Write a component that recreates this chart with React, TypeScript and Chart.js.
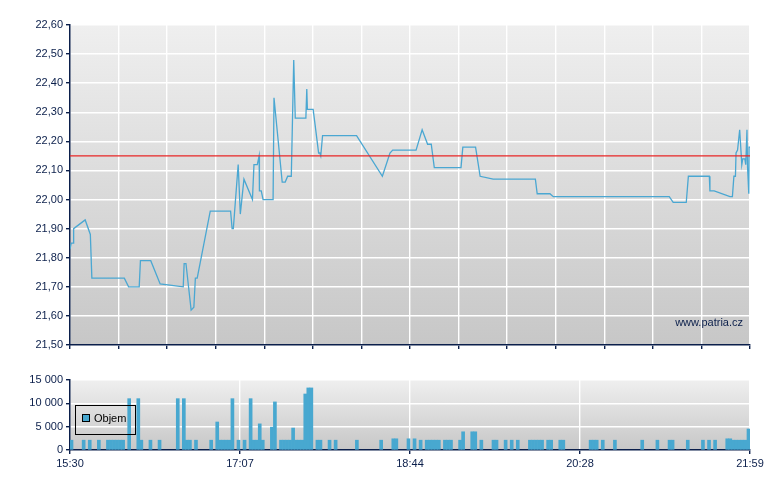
import React, { useEffect, useRef } from "react";
import { Chart, registerables } from "chart.js";

Chart.register(...registerables);

// session slots 0..224 along the time axis
const slotCount = 224;
const timeLabels = ["15:30", "17:07", "18:44", "20:28", "21:59"];
const referencePrice = 22.15;

const priceSlots = [
  0, 0.4, 1.0, 1.2, 5.0, 6.7, 7.2, 17.9, 19.3, 22.8, 23.2, 26.6, 29.7, 37.3, 37.6, 38.2, 39.9,
  40.8, 41.3, 41.9, 46.2, 52.9, 53.4, 53.8, 55.4, 56.1, 57.3, 60.1, 60.6, 61.7, 62.3, 62.4, 63.0,
  63.6, 66.9, 67.2, 69.9, 70.9, 71.7, 72.9, 73.7, 74.2, 77.7, 78.0, 78.2, 80.1, 81.9, 82.3, 82.6,
  83.2, 94.4, 102.9, 105.4, 106.3, 114.0, 116.0, 117.8, 119.0, 120.0, 128.8, 129.4, 133.6, 135.1,
  139.4, 153.3, 153.9, 158.1, 159.2, 197.4, 198.7, 203.0, 203.7, 210.6, 210.8, 212.2, 217.4,
  218.2, 218.7, 219.2, 219.4, 219.9, 220.6, 221.3, 221.6, 222.3, 222.6, 223.0, 223.2, 223.6,
  223.7, 224,
];
const priceValues = [
  21.83, 21.85, 21.85, 21.9, 21.93, 21.88, 21.73, 21.73, 21.7, 21.7, 21.79, 21.79, 21.71, 21.7,
  21.78, 21.78, 21.62, 21.63, 21.73, 21.73, 21.96, 21.96, 21.9, 21.9, 22.12, 21.95, 22.07, 22.0,
  22.12, 22.12, 22.15, 22.03, 22.03, 22.0, 22.0, 22.35, 22.06, 22.06, 22.08, 22.08, 22.48, 22.28,
  22.28, 22.38, 22.31, 22.31, 22.16, 22.16, 22.15, 22.22, 22.22, 22.08, 22.16, 22.17, 22.17,
  22.24, 22.19, 22.19, 22.11, 22.11, 22.18, 22.18, 22.08, 22.07, 22.07, 22.02, 22.02, 22.01,
  22.01, 21.99, 21.99, 22.08, 22.08, 22.03, 22.03, 22.01, 22.01, 22.08, 22.08, 22.16, 22.17,
  22.24, 22.12, 22.14, 22.14, 22.12, 22.24, 22.11, 22.02, 22.18, 22.18,
];

const volumeSlots = [
  0, 4, 6, 9, 12, 13, 14, 15, 16, 17, 19, 22, 23, 26, 29, 35, 37, 38, 39, 41, 46, 48, 49, 50, 51,
  52, 53, 55, 57, 59, 60, 61, 62, 63, 66, 67, 69, 70, 71, 72, 73, 74, 75, 76, 77, 78, 79, 81, 82,
  85, 87, 94, 102, 106, 107, 111, 113, 115, 117, 118, 119, 120, 121, 123, 124, 125, 128, 129, 132,
  133, 135, 139, 140, 143, 145, 147, 151, 152, 153, 154, 155, 157, 158, 161, 162, 171, 172, 173,
  175, 179, 188, 193, 197, 198, 203, 208, 210, 212, 216, 217, 218, 219, 220, 221, 222, 223,
];
const volumeValues = [
  2100, 2100, 2100, 2100, 2100, 2100, 2100, 2100, 2100, 2100, 11000, 11000, 2100, 2100, 2100,
  11000, 11000, 2100, 2100, 2100, 2100, 6000, 2100, 2100, 2100, 2100, 11000, 2100, 2100, 11000,
  2100, 2100, 5600, 2100, 4900, 10300, 2100, 2100, 2100, 2100, 4700, 2100, 2100, 2100, 12000,
  13300, 13300, 2100, 2100, 2100, 2100, 2100, 2100, 2400, 2400, 2400, 2400, 2100, 2100, 2100,
  2100, 2100, 2100, 2100, 2100, 2100, 2100, 3900, 3900, 3900, 2100, 2100, 2100, 2100, 2100, 2100,
  2100, 2100, 2100, 2100, 2100, 2100, 2100, 2100, 2100, 2100, 2100, 2100, 2100, 2100, 2100, 2100,
  2100, 2100, 2100, 2100, 2100, 2100, 2400, 2400, 2100, 2100, 2100, 2100, 2100, 4500,
];

const navy = "#0b1f4b";
const lineBlue = "#4aa7d2";
const barBlue = "#48a8d0";
const fontFamily = "'Liberation Sans', Arial, sans-serif";

const plotBackground = {
  id: "plotBackground",
  beforeDraw(chart: any) {
    const { ctx, chartArea } = chart;
    if (!chartArea) return;
    const g = ctx.createLinearGradient(0, chartArea.top, 0, chartArea.bottom);
    g.addColorStop(0, "#efefef");
    g.addColorStop(1, "#c7c7c7");
    ctx.save();
    ctx.fillStyle = g;
    ctx.fillRect(chartArea.left, chartArea.top, chartArea.right - chartArea.left, chartArea.bottom - chartArea.top);
    ctx.restore();
  },
};

const watermark = {
  id: "watermark",
  afterDraw(chart: any) {
    const { ctx, chartArea } = chart;
    ctx.save();
    ctx.font = "11px " + fontFamily;
    ctx.fillStyle = navy;
    ctx.textAlign = "right";
    ctx.textBaseline = "middle";
    ctx.fillText("www.patria.cz", chartArea.right - 7, chartArea.bottom - 22);
    ctx.restore();
  },
};

const volumeLegend = {
  id: "volumeLegend",
  afterDraw(chart: any) {
    const { ctx, chartArea } = chart;
    const x = chartArea.left + 5;
    const y = chartArea.top + 25;
    ctx.save();
    ctx.strokeStyle = "#000";
    ctx.lineWidth = 1;
    ctx.strokeRect(x + 0.5, y + 0.5, 60, 29);
    ctx.fillStyle = barBlue;
    ctx.fillRect(x + 8, y + 10, 7, 7);
    ctx.strokeRect(x + 7.5, y + 9.5, 7, 7);
    ctx.font = "11px " + fontFamily;
    ctx.fillStyle = "#000";
    ctx.textBaseline = "middle";
    ctx.fillText("Objem", x + 19, y + 14);
    ctx.restore();
  },
};

const fmtPrice = (v: number) => v.toFixed(2).replace(".", ",");
const fmtVolume = (v: number) => String(Math.round(v)).replace(/\B(?=(\d{3})+(?!\d))/g, " ");

export default function App() {
  const priceRef = useRef<HTMLCanvasElement>(null);
  const volumeRef = useRef<HTMLCanvasElement>(null);

  useEffect(() => {
    Chart.defaults.font.family = fontFamily;
    Chart.defaults.font.size = 11;
    Chart.defaults.color = navy;

    const priceChart = new Chart(priceRef.current as HTMLCanvasElement, {
      type: "line",
      data: {
        datasets: [
          {
            data: priceSlots.map((s, i) => ({ x: s, y: priceValues[i] })),
            borderColor: lineBlue,
            borderWidth: 1.3,
            pointRadius: 0,
            tension: 0,
            order: 1,
          },
          {
            data: [
              { x: 0, y: referencePrice },
              { x: slotCount, y: referencePrice },
            ],
            borderColor: "#e82626",
            borderWidth: 1.2,
            pointRadius: 0,
            order: 0,
          },
        ],
      },
      options: {
        responsive: false,
        animation: false,
        layout: { padding: { top: 25, right: 30, left: 0, bottom: 0 } },
        plugins: { legend: { display: false }, tooltip: { enabled: false } },
        scales: {
          x: {
            type: "linear",
            min: 0,
            max: slotCount,
            afterFit: (s: any) => {
              s.height = 15;
            },
            ticks: { stepSize: 16, autoSkip: false, callback: () => "" },
            grid: { color: "#ffffff", lineWidth: 1.4, tickColor: navy, tickLength: 4 },
            border: { color: navy, width: 1.5 },
          },
          y: {
            min: 21.5,
            max: 22.6,
            afterFit: (s: any) => {
              s.width = 70;
            },
            ticks: { stepSize: 0.1, padding: 3, callback: (v: any) => fmtPrice(Number(v)) },
            grid: { color: "#ffffff", lineWidth: 1.4, tickColor: navy, tickLength: 4 },
            border: { color: navy, width: 1.5 },
          },
        },
      },
      plugins: [plotBackground, watermark],
    });

    const volumeChart = new Chart(volumeRef.current as HTMLCanvasElement, {
      type: "bar",
      data: {
        datasets: [
          {
            data: volumeSlots.map((s, i) => ({ x: s + 0.5, y: volumeValues[i] })),
            backgroundColor: barBlue,
            borderWidth: 0,
            barThickness: 3,
            grouped: false,
          },
        ],
      },
      options: {
        responsive: false,
        animation: false,
        layout: { padding: { top: 20, right: 30, left: 0, bottom: 0 } },
        plugins: { legend: { display: false }, tooltip: { enabled: false } },
        scales: {
          x: {
            type: "linear",
            min: 0,
            max: slotCount,
            offset: false,
            afterFit: (s: any) => {
              s.height = 40;
            },
            ticks: {
              stepSize: slotCount / 4,
              autoSkip: false,
              maxRotation: 0,
              padding: 3,
              callback: (v: any) => timeLabels[Math.round(Number(v) / (slotCount / 4))] ?? "",
            },
            grid: { offset: false, color: "#ffffff", lineWidth: 1.4, tickColor: navy, tickLength: 4 },
            border: { color: navy, width: 1.5 },
          },
          y: {
            min: 0,
            max: 15000,
            afterFit: (s: any) => {
              s.width = 70;
            },
            ticks: { stepSize: 5000, padding: 3, callback: (v: any) => fmtVolume(Number(v)) },
            grid: { color: "#ffffff", lineWidth: 1.4, tickColor: navy, tickLength: 4 },
            border: { color: navy, width: 1.5 },
          },
        },
      },
      plugins: [plotBackground, volumeLegend],
    });

    return () => {
      priceChart.destroy();
      volumeChart.destroy();
    };
  }, []);

  return (
    <div style={{ position: "absolute", left: 0, top: 0, width: 780, height: 490, background: "#fff" }}>
      <canvas ref={priceRef} width={780} height={360} style={{ position: "absolute", left: 0, top: 0 }} />
      <canvas ref={volumeRef} width={780} height={130} style={{ position: "absolute", left: 0, top: 360 }} />
    </div>
  );
}
